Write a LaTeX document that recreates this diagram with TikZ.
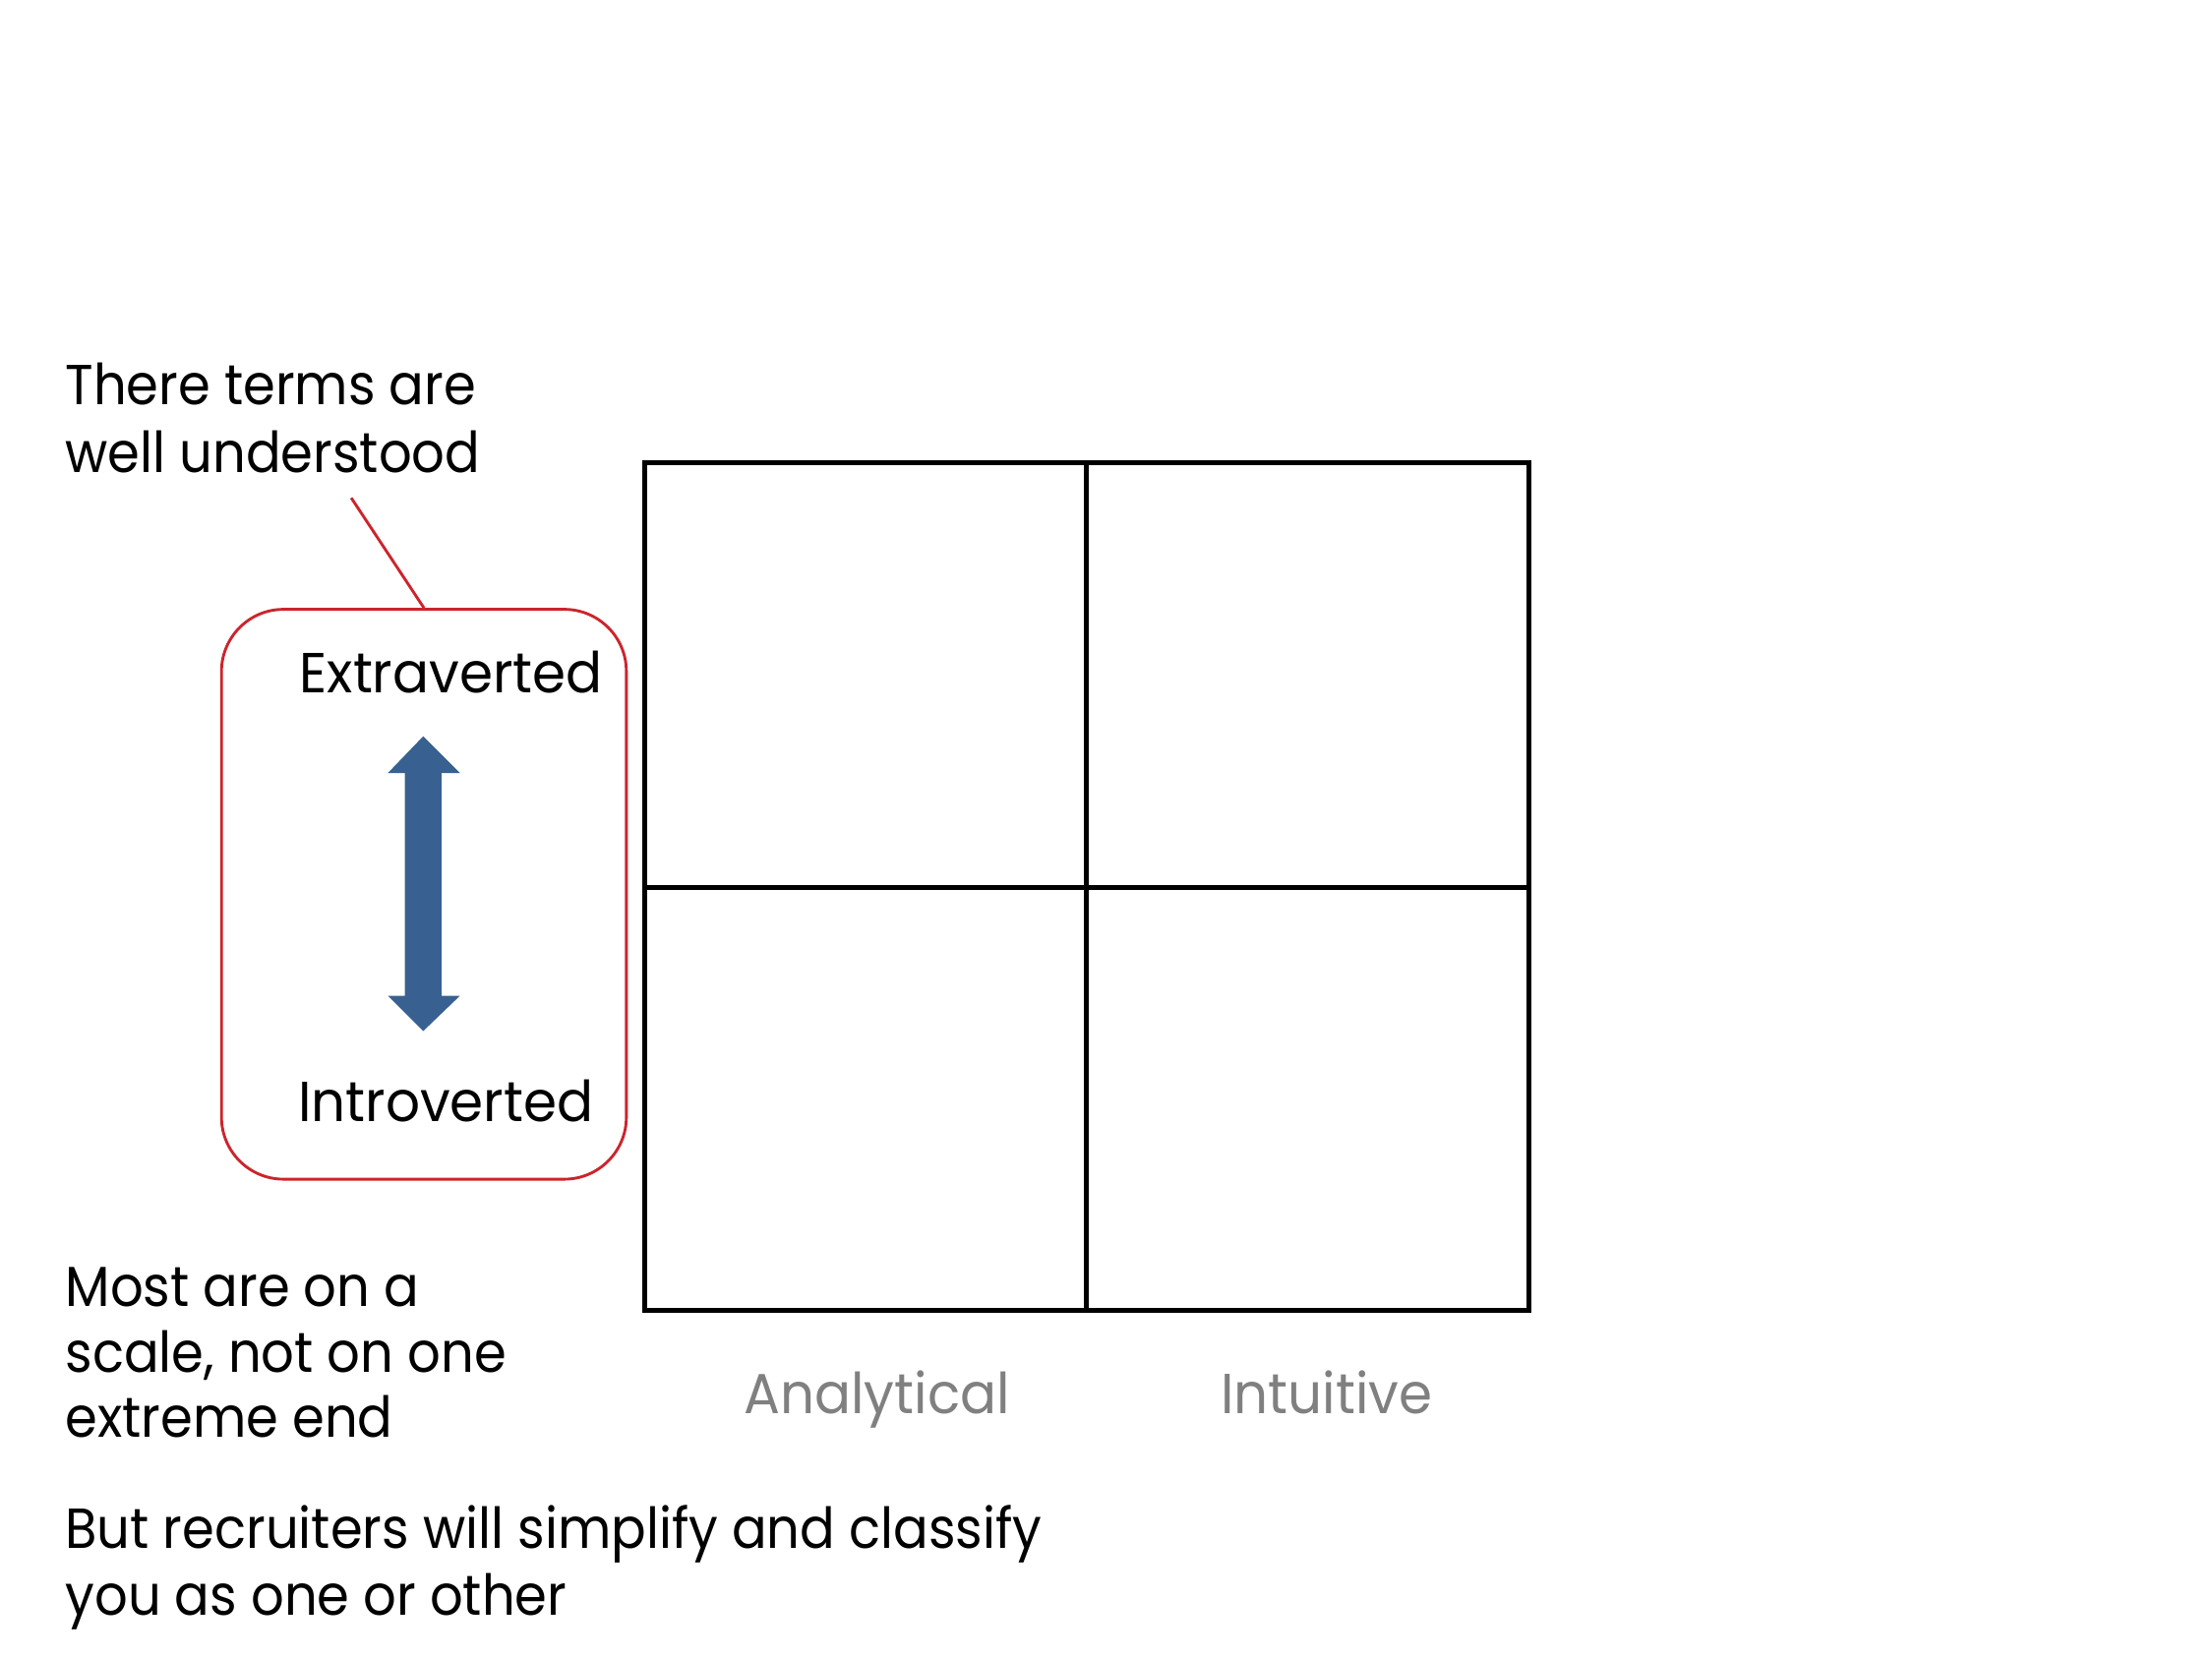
\documentclass[tikz,border=0pt]{standalone}
\usepackage{fontspec}
\setmainfont{Poppins}
\newfontfamily\narrowA[FakeStretch=0.92]{Poppins}
\newfontfamily\narrowB[FakeStretch=0.955]{Poppins}
\definecolor{boxred}{RGB}{204,36,44}
\definecolor{arrowblue}{RGB}{56,96,145}
\definecolor{labelgray}{RGB}{128,128,128}
\tikzset{
  txt/.style={anchor=base west, inner sep=0pt, font=\narrowA\fontsize{20}{24}\selectfont, text=black},
  boxtxt/.style={txt, font=\narrowB\fontsize{20}{24}\selectfont},
  axislabel/.style={boxtxt, text=labelgray},
  gridline/.style={line width=1.8pt, line cap=rect},
  callout/.style={draw=boxred, line width=1pt, rounded corners=22pt},
}
\begin{document}
\begin{tikzpicture}[x=0.5pt,y=-0.5pt]
\useasboundingbox (0,0) rectangle (1568,1176);
% text
\node[txt] (t1) at (46,287) {There terms are};
\node[txt] (t2) at (46,335) {well understood};
\node[txt] (m1) at (46,926) {Most are on a};
\node[txt] (m2) at (46,973) {scale, not on one};
\node[txt] (m3) at (46,1019) {extreme end};
\node[txt] (b1) at (46,1098) {But recruiters will simplify and classify};
\node[txt] (b2) at (46,1145) {you as one or other};
% grid
\coordinate (g1) at (457,328);
\coordinate (g2) at (1084,929);
\draw[gridline] (g1) rectangle (g2);
\coordinate (vt) at (770,328);
\coordinate (vb) at (770,929);
\coordinate (hl) at (457,629);
\coordinate (hr) at (1084,629);
\draw[gridline] (vt) -- (vb);
\draw[gridline] (hl) -- (hr);
\node[axislabel] (an) at (527,1002) {Analytical};
\node[axislabel] (in) at (865,1002) {Intuitive};
% callout box
\node[callout, minimum width=143.5pt, minimum height=202pt, inner sep=0pt] (box) at (300.5,634) {};
\node[boxtxt] (ex) at (212,491) {Extraverted};
\node[boxtxt] (intro) at (211,795) {Introverted};
\coordinate (lend) at (249,353);
\draw[boxred, line width=1pt] (box.north) -- (lend);
% double arrow
\fill[arrowblue] (300,522) -- (326,548) -- (313,548) -- (313,706) -- (326,706) -- (300,731) -- (275,706) -- (287,706) -- (287,548) -- (275,548) -- cycle;
\end{tikzpicture}
\end{document}
